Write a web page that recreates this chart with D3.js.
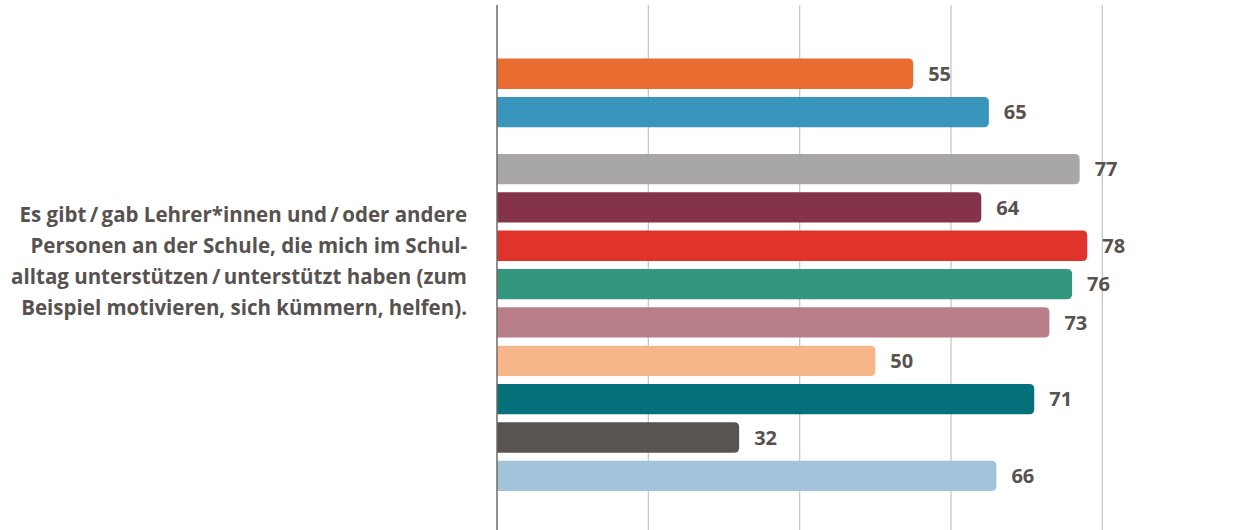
<!DOCTYPE html>
<html><head><meta charset="utf-8">
<script src="https://cdn.jsdelivr.net/npm/d3@7"></script>
<style>body{margin:0;background:#fff}svg{display:block}</style>
</head><body>
<svg id="c" width="1249" height="530"></svg>
<script>
const categories = ["s1","s2","s3","s4","s5","s6","s7","s8","s9","s10","s11"];
const values = [55,65,77,64,78,76,73,50,71,32,66];
const colors = ["#E96C31","#3A95BC","#A8A7A6","#84334B","#E0332C","#32977D","#B87F88","#F6B68A","#04717A","#5A5450","#A2C4DA"];
const groupOf = [0,0,1,1,1,1,1,1,1,1,1];
const ticks = [0,20,40,60,80,100];
const labelLines = ["Es gibt\u2009/\u2009gab Lehrer*innen und\u2009/\u2009oder andere","Personen an der Schule, die mich im Schul-","alltag unterstützen\u2009/\u2009unterstützt haben (zum","Beispiel motivieren, sich kümmern, helfen)."];

const svg = d3.select("#c");
const x = d3.scaleLinear().domain([0,100]).range([497,1253.7]);
const pitch = 38.35, groupGap = 18.6, top0 = 58.6, barH = 30.3, r = 5;
const y = i => top0 + i*pitch + groupOf[i]*groupGap;

svg.append("g").selectAll("line").data(ticks.filter(t=>t>0)).join("line")
  .attr("x1",d=>x(d)).attr("x2",d=>x(d)).attr("y1",5).attr("y2",530)
  .attr("stroke","#c8c8c8").attr("stroke-width",1.3);

function barPath(x0,x1,y0,h){
  return `M${x0},${y0}H${x1-r}Q${x1},${y0} ${x1},${y0+r}V${y0+h-r}Q${x1},${y0+h} ${x1-r},${y0+h}H${x0}Z`;
}
svg.append("g").selectAll("path").data(values).join("path")
  .attr("d",(d,i)=>barPath(x(0),x(d),y(i),barH))
  .attr("fill",(d,i)=>colors[i]);

svg.append("line").attr("x1",x(0)).attr("x2",x(0)).attr("y1",5).attr("y2",530)
  .attr("stroke","#6f6a67").attr("stroke-width",1.5);

svg.append("g").selectAll("text").data(values).join("text")
  .attr("x",d=>x(d)+15).attr("y",(d,i)=>y(i)+barH/2)
  .attr("dy","0.36em")
  .attr("font-family","'Open Sans', sans-serif").attr("font-weight",700).attr("font-size",20)
  .attr("fill","#57524F").text(d=>d);

svg.append("g").selectAll("text").data(labelLines).join("text")
  .attr("x",467).attr("y",(d,i)=>215+i*31).attr("dy","0.36em")
  .attr("text-anchor","end")
  .attr("font-family","'Open Sans', sans-serif").attr("font-weight",700).attr("font-size",20.5)
  .attr("fill","#57524F").text(d=>d);
</script>
</body></html>
